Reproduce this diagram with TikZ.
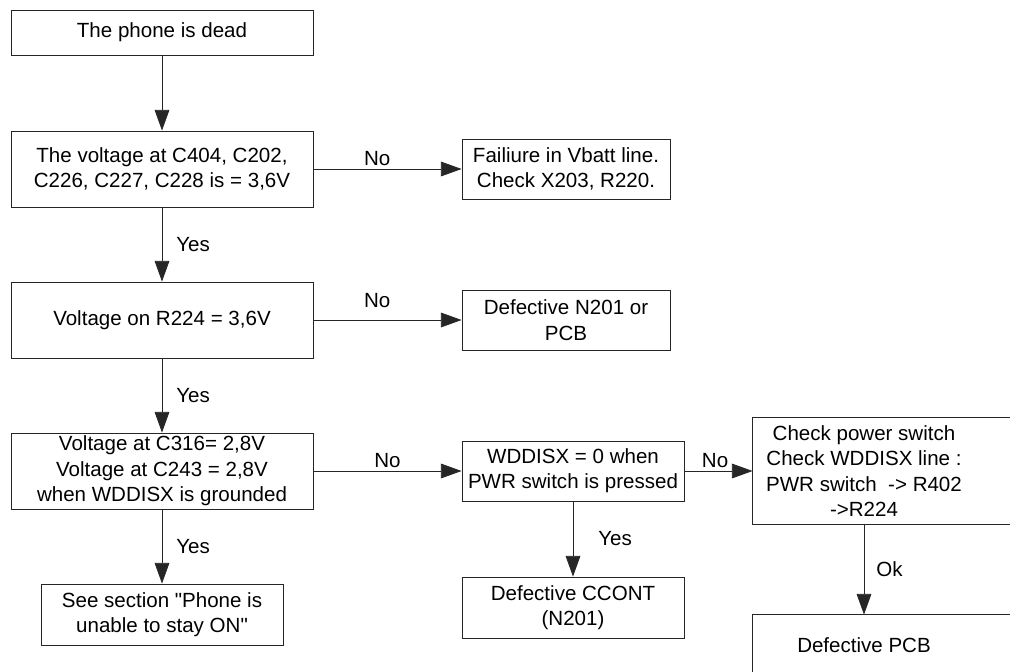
\documentclass[tikz,border=0pt]{standalone}
\usepackage{fontspec}
\setmainfont{Liberation Sans}
\usetikzlibrary{positioning, arrows.meta}

\begin{document}
\begin{tikzpicture}[x=0.75pt, y=-0.75pt]
        \tikzset{box/.style = {draw=black!85, line width=0.6pt, inner sep=0pt, align=center, font=\fontsize{15.4pt}{19pt}\selectfont}}
        \tikzset{arr/.style = {draw=black!85, line width=0.6pt, -{Triangle[length=15.5pt, width=11pt]}}}
        \tikzset{lbl/.style = {inner sep=0pt, font=\fontsize{15.4pt}{19pt}\selectfont}}

        \useasboundingbox (0,0) rectangle (1010,671);
        \clip (0,0) rectangle (1010,671);

        \node[box, minimum width=226.5pt, minimum height=33.75pt] (dead) at (162,32.5) {The phone is dead};
        \node[box, minimum width=226.5pt, minimum height=57pt] (volt) at (162,169) {The voltage at C404, C202,\\C226, C227, C228 is = 3,6V};
        \node[box, minimum width=156pt, minimum height=45pt] (fail) at (566,169) {Failiure in Vbatt line.\\Check X203, R220.};
        \node[box, minimum width=226.5pt, minimum height=57pt] (r224) at (162,320) {Voltage on R224 = 3,6V};
        \node[box, minimum width=156pt, minimum height=45pt] (n201) at (566,320) {Defective N201 or\\PCB};
        \node[box, minimum width=226.5pt, minimum height=57pt] (c316) at (162,471) {Voltage at C316= 2,8V\\Voltage at C243 = 2,8V\\when WDDISX is grounded};
        \node[box, minimum width=181.5pt, minimum height=45.75pt] (see) at (162,614.5) {See section \textquotedbl Phone is\\unable to stay ON\textquotedbl};
        \node[box, minimum width=166.5pt, minimum height=45pt] (wdd) at (573,471) {WDDISX = 0 when\\PWR switch is pressed};
        \node[box, minimum width=166.5pt, minimum height=45.75pt] (ccont) at (573,607.5) {Defective CCONT\\(N201)};
        \node[box, draw=none, minimum width=166.5pt, minimum height=79.5pt] (chk) at (864,471) {Check power switch\\Check WDDISX line :\\PWR switch~ -> R402\\->R224};
        \node[box, draw=none, minimum width=166.5pt, minimum height=45pt] (pcb) at (864,645) {Defective PCB};

        % boxes running off the page
        \draw[draw=black!85, line width=0.6pt] (chk.south west) rectangle ([xshift=60pt]chk.north east);
        \draw[draw=black!85, line width=0.6pt] (pcb.south west) rectangle ([xshift=60pt]pcb.north east);

        % arrows
        \draw[arr] (dead) -- (volt);
        \draw[arr] (volt) -- node[lbl, right=10.5pt]{Yes} (r224);
        \draw[arr] (r224) -- node[lbl, right=10.5pt]{Yes} (c316);
        \draw[arr] (c316) -- node[lbl, right=10.5pt]{Yes} (see);
        \draw[arr] (volt) -- node[lbl, above=2pt, pos=0.43]{No} (fail);
        \draw[arr] (r224) -- node[lbl, above=9pt, pos=0.43]{No} (n201);
        \draw[arr] (c316) -- node[lbl, above=2pt]{No} (wdd);
        \draw[arr] (wdd) -- node[lbl, right=18.75pt]{Yes} (ccont);
        \draw[arr] (wdd) -- node[lbl, above=2pt, pos=0.45]{No} (chk);
        \draw[arr] (chk) -- node[lbl, right=9pt]{Ok} (pcb);

\end{tikzpicture}
\end{document}
